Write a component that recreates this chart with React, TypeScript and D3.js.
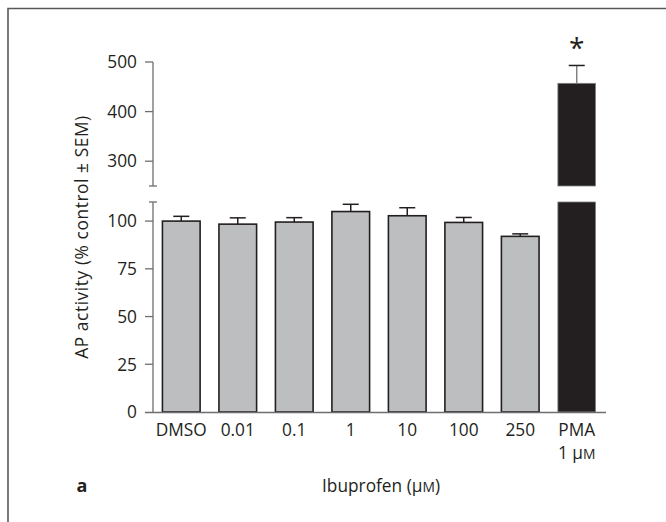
import React from 'react';
import * as d3 from 'd3';

// data
const categories = ['DMSO', '0.01', '0.1', '1', '10', '100', '250', 'PMA'];
const means = [100, 98.4, 99.5, 105, 102.8, 99.3, 92, 457];
const sems = [2.5, 3.3, 2.3, 3.8, 4.2, 2.6, 1.3, 36];
const lowerTicks = [0, 25, 50, 75, 100];
const upperTicks = [300, 400, 500];

const W = 666;
const H = 522;
const FONT = "'Open Sans', 'Noto Sans', sans-serif";
const FS = 17.3;
const AXIS = '#6d6e71';
const INK = '#231f20';

export default function App() {
	const axisX = 153;
	const x = d3
		.scaleBand()
		.domain(categories)
		.range([153, 605])
		.paddingInner(0.333)
		.paddingOuter(0.167);

	// broken y axis: two linear segments
	const yLow = d3.scaleLinear().domain([0, 110]).range([412, 202]);
	const yHigh = d3.scaleLinear().domain([250, 500]).range([186, 62]);
	const yOf = (v) => (v > 250 ? yHigh(v) : yLow(Math.min(v, 110)));

	const bw = x.bandwidth();

	return (
		<svg
			width={W}
			height={H}
			style={{ position: 'absolute', left: 0, top: 0, background: '#fff' }}
			fontFamily={FONT}>
			{/* frame (only top and left edges visible) */}
			<path d={`M8,${H} V8.5 H${W}`} fill='none' stroke='#58595b' strokeWidth={1.6} />

			{/* y axis segments */}
			<line x1={axisX} x2={axisX} y1={yHigh(500)} y2={yHigh(250)} stroke={AXIS} strokeWidth={1.3} />
			<line x1={axisX} x2={axisX} y1={yLow(110)} y2={yLow(0)} stroke={AXIS} strokeWidth={1.3} />
			{/* break marks */}
			<line x1={axisX - 4} x2={axisX + 4} y1={yHigh(250)} y2={yHigh(250)} stroke={AXIS} strokeWidth={1.3} />
			<line x1={axisX - 4} x2={axisX + 4} y1={yLow(110)} y2={yLow(110)} stroke={AXIS} strokeWidth={1.3} />

			{upperTicks.map((t) => (
				<g key={'u' + t} transform={`translate(0,${yHigh(t)})`}>
					<line x1={axisX - 8} x2={axisX} stroke={AXIS} strokeWidth={1.3} />
					<text x={137} dy='0.36em' textAnchor='end' fontSize={FS} fill={INK}>
						{t}
					</text>
				</g>
			))}
			{lowerTicks.map((t) => (
				<g key={'l' + t} transform={`translate(0,${yLow(t)})`}>
					{t > 0 && <line x1={axisX - 8} x2={axisX} stroke={AXIS} strokeWidth={1.3} />}
					<text x={137} dy='0.36em' textAnchor='end' fontSize={FS} fill={INK}>
						{t}
					</text>
				</g>
			))}

			{/* bars */}
			{categories.map((c, i) => {
				const x0 = x(c);
				const cx = x0 + bw / 2;
				const pma = c === 'PMA';
				const topY = yOf(means[i] + sems[i]);
				const whisker = (
					<g>
						<line x1={cx} x2={cx} y1={yOf(means[i])} y2={topY} stroke={pma ? '#808285' : INK} strokeWidth={1.5} />
						<line x1={cx - 8} x2={cx + 8} y1={topY} y2={topY} stroke={INK} strokeWidth={1.5} />
					</g>
				);
				if (pma) {
					return (
						<g key={c}>
							{whisker}
							<rect x={x0} y={yHigh(means[i])} width={bw} height={yHigh(250) - yHigh(means[i])} fill={INK} stroke='#808285' strokeWidth={0.8} />
							<rect x={x0} y={yLow(110)} width={bw} height={yLow(0) - yLow(110)} fill={INK} stroke='#808285' strokeWidth={0.8} />
							<text x={cx} y={topY - 7} textAnchor='middle' fontSize={28} fill={INK}>
								*
							</text>
						</g>
					);
				}
				return (
					<g key={c}>
						{whisker}
						<rect x={x0} y={yLow(means[i])} width={bw} height={yLow(0) - yLow(means[i])} fill='#bcbec0' stroke={INK} strokeWidth={1.6} />
					</g>
				);
			})}

			{/* x axis */}
			<line x1={145} x2={606} y1={yLow(0) + 0.5} y2={yLow(0) + 0.5} stroke={AXIS} strokeWidth={1.5} />
			{categories.map((c) => (
				<text key={c} x={x(c) + bw / 2} y={436} textAnchor='middle' fontSize={FS} fill={INK}>
					{c}
				</text>
			))}
			<text x={x('PMA') + bw / 2} y={459} textAnchor='middle' fontSize={FS} fill={INK}>
				1 µ<tspan fontSize={FS * 0.8}>M</tspan>
			</text>

			{/* titles */}
			<text transform='translate(88,237) rotate(-90)' textAnchor='middle' fontSize={FS} letterSpacing={0.6} fill={INK}>
				AP activity (% control ± SEM)
			</text>
			<text x={381} y={492} textAnchor='middle' fontSize={FS} fill={INK}>
				Ibuprofen (µ<tspan fontSize={FS * 0.8}>M</tspan>)
			</text>
			<text x={82} y={492} textAnchor='middle' fontSize={18} fontWeight='bold' fill={INK}>
				a
			</text>
		</svg>
	);
}
